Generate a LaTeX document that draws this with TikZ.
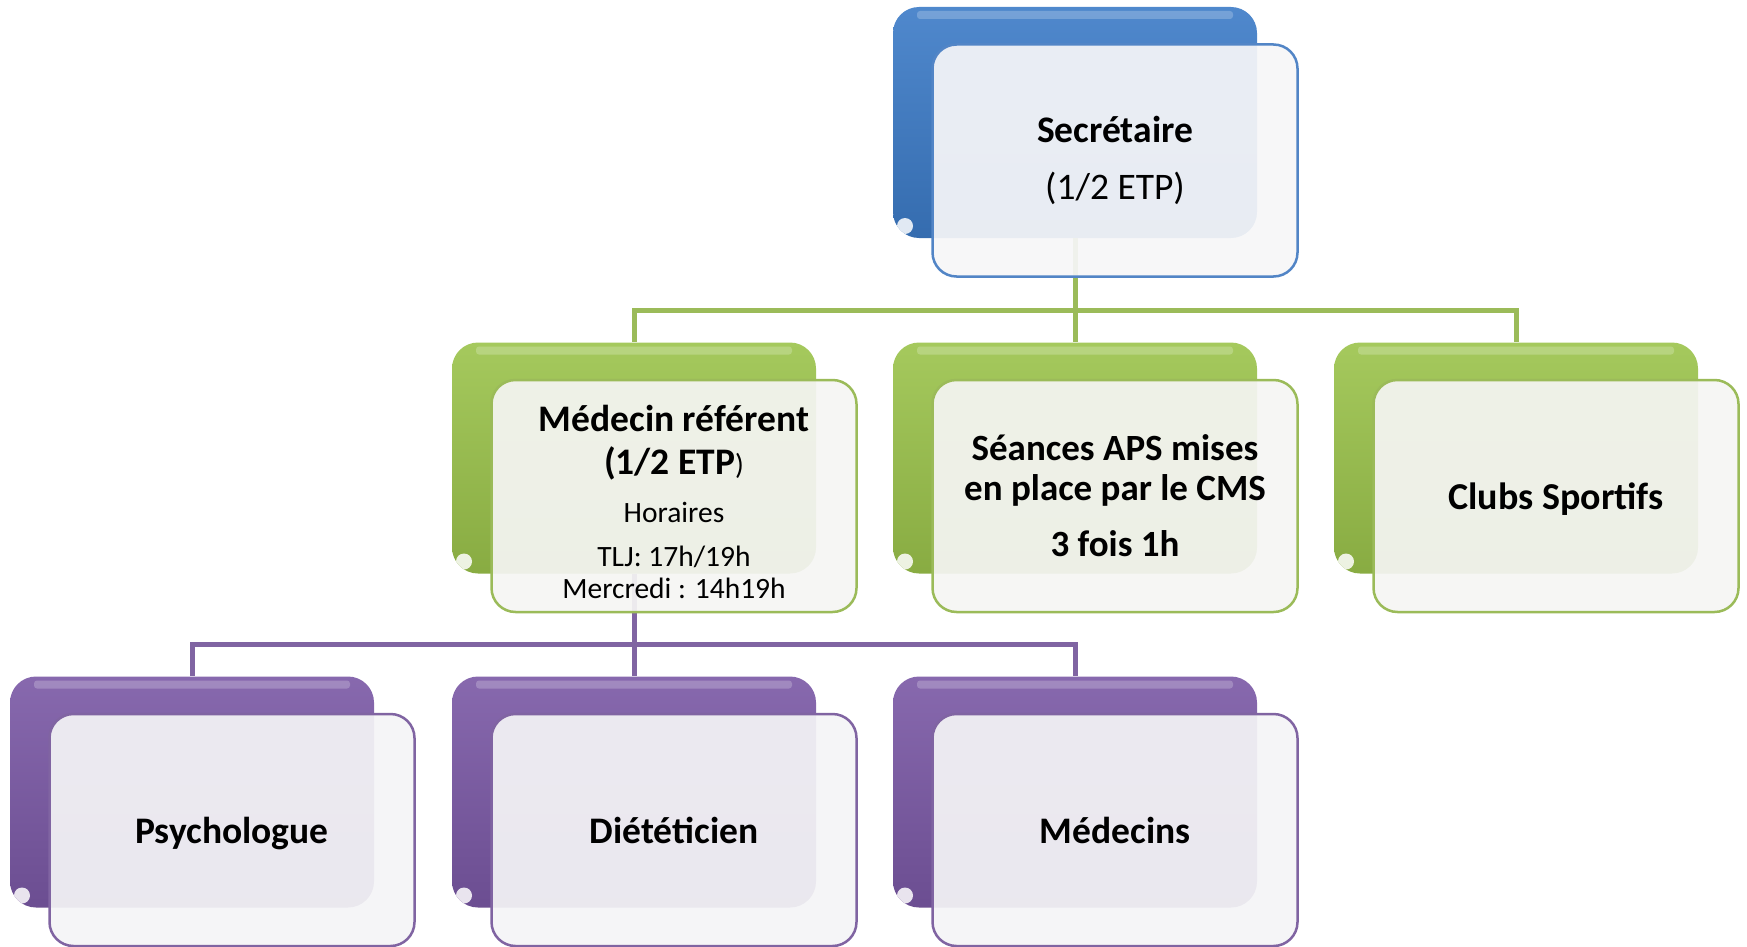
\documentclass[tikz,border=0pt]{standalone}
\usepackage{fontspec}
\setmainfont{Carlito}
\usepackage{xcolor}

\definecolor{bluedeep}{HTML}{3C7BC7}
\definecolor{blueedge}{HTML}{5285C6}
\definecolor{bluefront}{HTML}{F6F6F8}
\definecolor{greendeep}{HTML}{9BC34B}
\definecolor{greenedge}{HTML}{9BBB59}
\definecolor{greenfront}{HTML}{F5F5F3}
\definecolor{purpledeep}{HTML}{7A58A5}
\definecolor{purpleedge}{HTML}{8064A2}
\definecolor{purplefront}{HTML}{F4F4F6}

\begin{document}
\begin{tikzpicture}[
  x=1pt, y=-1pt,
  backbox/.style={rounded corners=26pt, minimum width=364pt, minimum height=231pt, inner sep=0pt,
    top color=#1!90!white, bottom color=#1!88!black,
    path picture={
      \fill[white, opacity=0.22, rounded corners=3pt] ([xshift=24pt,yshift=-4pt]path picture bounding box.north west) rectangle ([xshift=-24pt,yshift=-12pt]path picture bounding box.north east);
      \fill[white, opacity=0.85] ([xshift=12pt,yshift=12pt]path picture bounding box.south west) circle (8pt);
    }},
  frontbox/.style={rounded corners=24pt, minimum width=365pt, minimum height=232pt, inner sep=0pt,
    align=center, line width=2.5pt, fill opacity=0.93, text opacity=1},
  link/.style={line width=5pt},
  title/.style={font=\fontsize{37.5}{45}\selectfont\bfseries, text height=27pt, text depth=1pt}
]
  \useasboundingbox (0,0) rectangle (1747,947);

  % back cards
  \node[backbox=bluedeep] (secb) at (1075,122.5) {};
  \node[backbox=greendeep] (refb) at (634,458) {};
  \node[backbox=greendeep] (apsb) at (1075,458) {};
  \node[backbox=greendeep] (clubb) at (1516,458) {};
  \node[backbox=purpledeep] (psyb) at (192,792) {};
  \node[backbox=purpledeep] (dietb) at (634,792) {};
  \node[backbox=purpledeep] (medb) at (1075,792) {};

  % links
  \draw[link, greenedge] (secb.south) -- ++(0,72) -| (refb.north);
  \draw[link, greenedge] (secb.south) -- ++(0,72) -| (clubb.north);
  \draw[link, greenedge] (secb.south) -- (apsb.north);
  \draw[link, purpleedge] (refb.south) -- ++(0,71) -| (psyb.north);
  \draw[link, purpleedge] (refb.south) -- ++(0,71) -| (medb.north);
  \draw[link, purpleedge] (refb.south) -- (dietb.north);

  % front cards
  \node[frontbox, draw=blueedge, fill=bluefront, font=\fontsize{37.5}{57}\selectfont] (sec) at ([shift={(40,38)}]secb.center)
    {{\bfseries Secrétaire}\\ (1/2 ETP)};
  \node[frontbox, draw=greenedge, fill=greenfront, font=\fontsize{37.5}{32}\selectfont\bfseries] (ref) at ([shift={(40,38)}]refb.center)
    {\rule{0pt}{39pt}Médecin référent\\[11pt] (1/2 ETP{\mdseries\fontsize{29}{32}\selectfont)}\\[16pt]
     {\mdseries\fontsize{29.5}{32}\selectfont Horaires}\\[12pt]
     {\mdseries\fontsize{29.5}{32}\selectfont TLJ: 17h/19h}\\
     {\mdseries\fontsize{29.5}{32}\selectfont Mercredi : 14h19h}};
  \node[frontbox, draw=greenedge, fill=greenfront, font=\fontsize{37}{40}\selectfont\bfseries] (aps) at ([shift={(40,38)}]apsb.center)
    {Séances APS mises\\ en place par le CMS\\[16pt] 3 fois 1h};
  \node[frontbox, draw=greenedge, fill=greenfront, title, font=\fontsize{38}{45}\selectfont\bfseries] (club) at ([shift={(40,38)}]clubb.center) {Clubs Sportifs};
  \node[frontbox, draw=purpleedge, fill=purplefront, title] (psy) at ([shift={(40,38)}]psyb.center) {Psychologue};
  \node[frontbox, draw=purpleedge, fill=purplefront, title] (diet) at ([shift={(40,38)}]dietb.center) {Diététicien};
  \node[frontbox, draw=purpleedge, fill=purplefront, title] (med) at ([shift={(40,38)}]medb.center) {Médecins};
\end{tikzpicture}
\end{document}
